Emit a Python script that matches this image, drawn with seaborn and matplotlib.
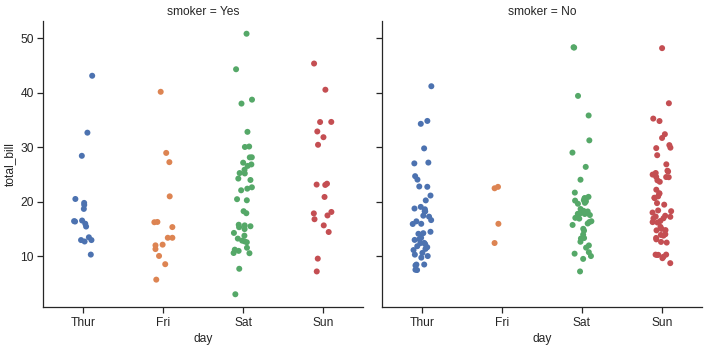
import numpy as np
import pandas as pd
import seaborn as sns
import matplotlib
matplotlib.use("Agg")
import matplotlib.pyplot as plt

days = ["Thur", "Fri", "Sat", "Sun"]
smoker_levels = ["Yes", "No"]

# total_bill values per (smoker, day)
yes_thur = [19.44, 32.68, 16.00, 19.81, 28.44, 15.48, 16.58, 10.34, 43.11, 13.00,
            13.51, 18.71, 12.74, 13.00, 16.40, 20.53, 16.47]
yes_fri = [28.97, 5.75, 16.32, 40.17, 27.28, 12.03, 21.01, 11.35, 15.38, 12.16,
           13.42, 8.58, 13.42, 16.27, 10.09]
yes_sat = [38.01, 11.24, 20.29, 13.81, 11.02, 18.29, 3.07, 15.01, 26.86, 25.28,
           17.92, 44.30, 22.42, 15.36, 20.49, 25.21, 14.31, 10.59, 10.63, 50.81,
           15.81, 26.59, 38.73, 24.27, 12.76, 30.06, 25.89, 13.27, 28.17, 12.90,
           28.15, 11.59, 7.74, 30.14, 22.12, 24.01, 15.69, 15.53, 12.60, 32.83,
           27.18, 22.67]
yes_sun = [17.51, 7.25, 31.85, 16.82, 32.90, 17.89, 14.48, 9.60, 34.63, 34.65,
           23.33, 45.35, 23.17, 40.55, 20.90, 30.46, 18.15, 23.10, 15.69]
no_thur = [27.20, 22.76, 17.29, 16.66, 10.07, 15.98, 34.83, 13.03, 18.28, 24.71,
           21.16, 10.65, 12.43, 24.08, 11.69, 13.42, 14.26, 15.95, 12.48, 29.80,
           8.52, 14.52, 11.38, 22.82, 19.08, 20.27, 11.17, 12.26, 18.26, 8.51,
           10.33, 14.15, 13.16, 17.47, 34.30, 41.19, 27.05, 16.43, 8.35, 18.64,
           11.87, 9.78, 7.51, 7.56, 18.78]
no_fri = [22.49, 22.75, 12.46, 15.98]
no_sat = [20.65, 17.92, 20.29, 15.77, 39.42, 19.82, 17.81, 13.37, 12.69, 21.70,
          19.65, 9.55, 18.35, 15.06, 20.69, 17.78, 24.06, 16.31, 16.93, 18.69,
          31.27, 16.04, 26.41, 48.27, 17.59, 20.08, 16.45, 20.23, 12.02, 17.07,
          14.73, 10.51, 20.92, 18.24, 14.00, 7.25, 48.33, 20.45, 13.28, 11.61,
          10.77, 10.07, 35.83, 29.03, 17.82]
no_sun = [16.99, 10.34, 21.01, 23.68, 24.59, 25.29, 8.77, 26.88, 15.04, 14.78,
          10.27, 35.26, 15.42, 18.43, 14.83, 21.58, 10.33, 16.29, 16.97, 17.46,
          13.94, 9.68, 30.40, 18.29, 22.23, 32.40, 28.55, 18.04, 12.54, 10.29,
          34.81, 9.94, 25.56, 19.49, 38.07, 23.95, 25.71, 17.31, 29.93, 14.07,
          13.13, 17.26, 24.55, 19.77, 29.85, 48.17, 25.00, 13.39, 16.49, 21.50,
          12.66, 16.21, 13.81, 24.52, 20.76, 31.71, 20.69]

groups = {
    ("Yes", "Thur"): yes_thur, ("Yes", "Fri"): yes_fri,
    ("Yes", "Sat"): yes_sat, ("Yes", "Sun"): yes_sun,
    ("No", "Thur"): no_thur, ("No", "Fri"): no_fri,
    ("No", "Sat"): no_sat, ("No", "Sun"): no_sun,
}
rows = []
for (sm, d), vals in groups.items():
    for v in vals:
        rows.append({"smoker": sm, "day": d, "total_bill": v})
tips = pd.DataFrame(rows)
tips["day"] = pd.Categorical(tips["day"], categories=days)
tips["smoker"] = pd.Categorical(tips["smoker"], categories=smoker_levels)

sns.set_theme(style="ticks")
plt.rcParams["font.family"] = ["Liberation Sans", "DejaVu Sans"]
plt.rcParams["font.size"] = 12
plt.rcParams["xtick.labelsize"] = 12
plt.rcParams["ytick.labelsize"] = 12
plt.rcParams["axes.labelsize"] = 12
plt.rcParams["axes.titlesize"] = 12
plt.rcParams["xtick.major.size"] = 6
plt.rcParams["ytick.major.size"] = 6
np.random.seed(0)
g = sns.catplot(data=tips, x="day", y="total_bill", hue="day", col="smoker",
                order=days, hue_order=days, col_order=smoker_levels,
                kind="strip", legend=False, palette="deep", size=6,
                jitter=0.12, height=5, aspect=1)
g.figure.set_size_inches(708 / 72, 348 / 72)
g.figure.subplots_adjust(left=0.0612, right=0.9911, bottom=0.117, top=0.9405,
                         wspace=0.0594)
g.figure.savefig("out.png", dpi=72)
